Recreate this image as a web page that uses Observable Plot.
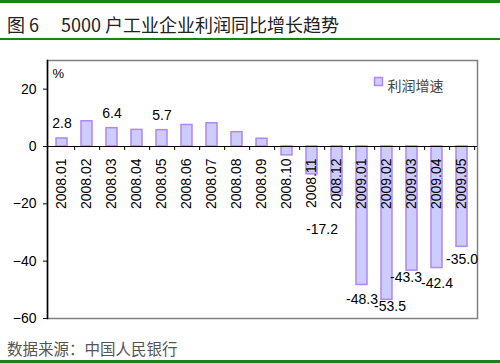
<!DOCTYPE html>
<html><head><meta charset="utf-8">
<script src="https://cdn.jsdelivr.net/npm/d3@7"></script>
<script src="https://cdn.jsdelivr.net/npm/@observablehq/plot@0.6"></script>
<style>
html,body{margin:0;padding:0;background:#fff;}
#wrap{position:relative;width:500px;height:363px;overflow:hidden;font-family:"Liberation Sans",Arial,sans-serif;}
.gl{position:absolute;left:0;width:500px;background:#1f7f1f;}
#title{position:absolute;left:7px;top:12px;font-family:"Noto Sans CJK SC",sans-serif;font-size:18px;color:#222;white-space:pre;line-height:24px;}
#caption{position:absolute;left:7px;top:338px;font-family:"Noto Sans CJK SC",sans-serif;font-size:15.5px;color:#555;line-height:20px;}
#chart{position:absolute;left:0;top:42px;}
</style></head>
<body><div id="wrap">
<div class="gl" style="top:0;height:3px"></div>
<div id="title">图 6　 5000 户工业企业利润同比增长趋势</div>
<div class="gl" style="top:38px;height:2px"></div>
<div id="chart"></div>
<div id="caption">数据来源：中国人民银行</div>
<div class="gl" style="top:360px;height:3px"></div>
</div>
<script>
const categories = ["2008.01","2008.02","2008.03","2008.04","2008.05","2008.06","2008.07","2008.08","2008.09","2008.10","2008.11","2008.12","2009.01","2009.02","2009.03","2009.04","2009.05"];
const values = [2.8, 8.8, 6.4, 5.8, 5.7, 7.5, 8.1, 5.0, 2.7, -3.1, -9.7, -17.2, -48.3, -53.5, -43.3, -42.4, -35.0];
const labeled = [true,false,true,false,true,false,false,false,false,false,false,true,true,true,true,true,true];
const yTicks = [20, 0, -20, -40, -60];
const seriesName = "利润增速";
const unit = "%";

const data = categories.map((c, i) => ({cat: c, v: values[i], lab: labeled[i]}));
const pos = data.filter(d => d.lab && d.v >= 0);
const negFar = data.filter(d => d.lab && d.v < -25);
const negNear = data.filter(d => d.lab && d.v < 0 && d.v >= -25);
const step = 430 / categories.length;
// label nudges (style only), alternating like the original's hand-placed labels
const nudgeDx = {"2009.02": 3, "2009.03": -6};
const nudgeDy = {"2009.01": 15, "2009.02": 7, "2009.03": 7, "2009.04": 15, "2009.05": 13};

const chart = Plot.plot({
  width: 500, height: 296,
  marginLeft: 47, marginRight: 23, marginTop: 18, marginBottom: 20,
  style: {fontFamily: "'Liberation Sans', Arial, sans-serif", fontSize: "14px", color: "#000", background: "transparent"},
  x: {domain: categories, paddingInner: 0.55, paddingOuter: 0.275, axis: null},
  y: {domain: [-60, 30], ticks: yTicks, tickSize: 4, tickPadding: 7, label: null},
  marks: [
    Plot.frame({stroke: "#808080", strokeWidth: 1.5}),
    Plot.barY(data, {x: "cat", y: "v", fill: "#ccccff", stroke: "#b088f0", strokeWidth: 1.5}),
    Plot.ruleY([0], {stroke: "#000", strokeWidth: 1.2}),
    Plot.ruleX(categories, {x: d => d, y1: 0, y2: -1.4, dx: step / 2, stroke: "#000"}),
    Plot.frame({anchor: "left", stroke: "#000", strokeWidth: 1.5}),
    Plot.text(categories, {x: d => d, y: 0, text: d => d, rotate: -90, textAnchor: "end", dy: 12, fontSize: 14}),
    Plot.text(pos, {x: "cat", y: "v", text: d => d.v.toFixed(1), dy: -15}),
    Plot.text(negNear, {x: "cat", y: "v", text: d => d.v.toFixed(1), dx: -15, dy: 34}),
    ...negFar.map(d => Plot.text([d], {x: "cat", y: "v", text: e => e.v.toFixed(1), dx: nudgeDx[d.cat] || 0, dy: nudgeDy[d.cat] || 13})),
    Plot.text([unit], {frameAnchor: "top-left", text: d => d, dx: 5, dy: 8, fontSize: 13}),
    Plot.dot([seriesName], {frameAnchor: "top-left", dx: 331, dy: 21, symbol: "square", r: 4.5, fill: "#ccccff", stroke: "#b088f0", strokeWidth: 1.5}),
    Plot.text([seriesName], {frameAnchor: "top-left", text: d => d, dx: 340, dy: 21, textAnchor: "start", fill: "#444", fontFamily: "'Noto Sans CJK SC', sans-serif", fontSize: 14})
  ]
});
document.getElementById("chart").appendChild(chart);
</script>
</body></html>
